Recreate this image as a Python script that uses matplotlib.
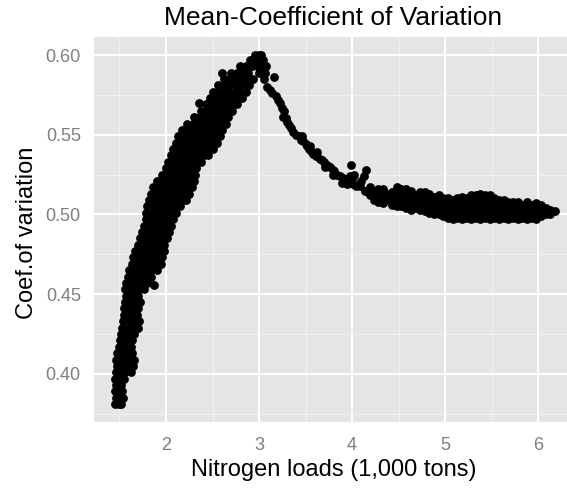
import matplotlib
matplotlib.use("Agg")
from matplotlib import pyplot as plt

# rising limb: rows of (coef. of variation, [nitrogen loads])
rise_rows = [
    (0.381, [1.45, 1.49, 1.52]),
    (0.385, [1.46, 1.51, 1.54]),
    (0.389, [1.45, 1.49, 1.53]),
    (0.393, [1.46, 1.50, 1.52]),
    (0.397, [1.45, 1.50, 1.55]),
    (0.401, [1.46, 1.51, 1.56, 1.62]),
    (0.405, [1.47, 1.52, 1.58, 1.64]),
    (0.409, [1.46, 1.51, 1.56, 1.61, 1.66]),
    (0.413, [1.47, 1.53, 1.58, 1.63]),
    (0.417, [1.50, 1.56, 1.62]),
    (0.421, [1.51, 1.57, 1.63]),
    (0.425, [1.52, 1.58, 1.63, 1.66]),
    (0.429, [1.53, 1.59, 1.65, 1.70]),
    (0.433, [1.54, 1.60, 1.66, 1.71]),
    (0.437, [1.55, 1.61, 1.66, 1.69]),
    (0.441, [1.55, 1.60, 1.65, 1.70]),
    (0.445, [1.56, 1.62, 1.67, 1.72]),
    (0.449, [1.57, 1.63, 1.68, 1.70]),
    (0.453, [1.56, 1.61, 1.66, 1.71, 1.76]),
    (0.456, [1.875]),
    (0.457, [1.57, 1.63, 1.69, 1.75, 1.80]),
    (0.461, [1.59, 1.64, 1.70, 1.76, 1.81, 1.84]),
    (0.465, [1.60, 1.66, 1.72, 1.78, 1.84, 1.90]),
    (0.469, [1.63, 1.69, 1.75, 1.81, 1.87, 1.93, 1.95]),
    (0.473, [1.65, 1.71, 1.77, 1.83, 1.89, 1.96]),
    (0.477, [1.67, 1.73, 1.79, 1.85, 1.91, 1.98]),
    (0.481, [1.70, 1.76, 1.82, 1.88, 1.94, 1.98]),
    (0.485, [1.72, 1.78, 1.84, 1.90, 1.96, 2.01]),
    (0.489, [1.74, 1.80, 1.86, 1.92, 1.98, 2.03]),
    (0.493, [1.76, 1.82, 1.88, 1.94, 2.00, 2.05]),
    (0.497, [1.78, 1.84, 1.90, 1.96, 2.02, 2.08]),
    (0.501, [1.79, 1.85, 1.91, 1.97, 2.03, 2.08, 2.11]),
    (0.505, [1.80, 1.86, 1.92, 1.98, 2.04, 2.10, 2.15]),
    (0.509, [1.82, 1.88, 1.94, 2.00, 2.06, 2.12, 2.18, 2.22]),
    (0.513, [1.84, 1.90, 1.96, 2.02, 2.08, 2.14, 2.20, 2.25]),
    (0.517, [1.86, 1.92, 1.98, 2.04, 2.10, 2.16, 2.22, 2.28]),
    (0.521, [1.90, 1.96, 2.02, 2.08, 2.14, 2.20, 2.26, 2.30]),
    (0.525, [1.96, 2.02, 2.08, 2.14, 2.20, 2.26, 2.31]),
    (0.529, [2.00, 2.06, 2.12, 2.18, 2.24, 2.29, 2.32]),
    (0.533, [2.02, 2.08, 2.14, 2.20, 2.26, 2.32, 2.38]),
    (0.537, [2.05, 2.11, 2.17, 2.23, 2.29, 2.35, 2.41, 2.45]),
    (0.541, [2.08, 2.14, 2.20, 2.26, 2.32, 2.38, 2.44, 2.50]),
    (0.545, [2.11, 2.17, 2.23, 2.29, 2.35, 2.41, 2.47, 2.53, 2.55]),
    (0.549, [2.13, 2.19, 2.25, 2.31, 2.37, 2.43, 2.49, 2.55, 2.58]),
    (0.553, [2.17, 2.23, 2.29, 2.35, 2.41, 2.47, 2.53, 2.60]),
    (0.557, [2.23, 2.29, 2.35, 2.41, 2.47, 2.53, 2.59, 2.64]),
    (0.561, [2.30, 2.36, 2.42, 2.48, 2.54, 2.60, 2.67]),
    (0.565, [2.38, 2.44, 2.50, 2.56, 2.62, 2.68, 2.71]),
    (0.569, [2.43, 2.49, 2.55, 2.61, 2.67, 2.73, 2.76]),
    (0.570, [2.355]),
    (0.573, [2.47, 2.53, 2.59, 2.65, 2.71, 2.77, 2.82]),
    (0.577, [2.50, 2.56, 2.62, 2.68, 2.74, 2.80, 2.86]),
    (0.581, [2.56, 2.62, 2.68, 2.74, 2.80, 2.86, 2.89]),
    (0.585, [2.62, 2.68, 2.74, 2.80, 2.86, 2.93]),
    (0.589, [2.60, 2.70, 2.76, 2.82, 2.88, 3.00, 3.06]),
    (0.593, [2.80, 2.86, 2.92, 2.98, 3.04, 3.08]),
    (0.597, [2.90, 2.96, 3.01, 3.04]),
    (0.600, [2.96, 3.00, 3.02]),
]

# falling limb after the peak
fall_x = [3.05, 3.09, 3.12, 3.16, 3.14, 3.18, 3.20, 3.22, 3.25, 3.27,
          3.26, 3.29, 3.30, 3.32, 3.34, 3.36, 3.40, 3.43, 3.45, 3.47,
          3.50, 3.52, 3.54, 3.56, 3.58, 3.61, 3.65, 3.68, 3.70, 3.73,
          3.76, 3.79, 3.81, 3.84, 3.87, 3.90, 3.92, 3.95, 3.99, 3.98,
          4.00, 4.02, 4.01, 4.04, 4.08, 4.10, 4.13, 4.15, 4.14, 4.16,
          3.62, 3.71, 3.80, 3.89, 3.46, 3.55]
fall_y = [0.585, 0.580, 0.578, 0.5865, 0.576, 0.574, 0.572, 0.570, 0.567, 0.5646,
          0.561, 0.5604, 0.558, 0.5563, 0.554, 0.552, 0.550, 0.549, 0.547, 0.5458,
          0.544, 0.5427, 0.541, 0.5396, 0.538, 0.5365, 0.535, 0.5344, 0.533, 0.5313,
          0.530, 0.528, 0.527, 0.525, 0.524, 0.523, 0.521, 0.519, 0.531, 0.524,
          0.522, 0.525, 0.519, 0.518, 0.5177, 0.521, 0.524, 0.528, 0.515, 0.5146,
          0.539, 0.530, 0.525, 0.520, 0.549, 0.543]

# plateau: columns of (nitrogen load, [coef. of variation])
tail_cols = [
    (4.19, [0.512, 0.517]),
    (4.24, [0.509, 0.514]),
    (4.28, [0.508, 0.512, 0.516]),
    (4.33, [0.507, 0.511, 0.516]),
    (4.38, [0.509, 0.513]),
    (4.43, [0.506, 0.510, 0.514]),
    (4.48, [0.505, 0.509, 0.513, 0.517]),
    (4.53, [0.505, 0.509, 0.513, 0.516]),
    (4.58, [0.504, 0.508, 0.512, 0.516]),
    (4.63, [0.503, 0.507, 0.511, 0.515]),
    (4.68, [0.504, 0.508, 0.512]),
    (4.73, [0.503, 0.507, 0.511, 0.514]),
    (4.78, [0.502, 0.506, 0.510, 0.514]),
    (4.83, [0.501, 0.505, 0.509, 0.513]),
    (4.88, [0.500, 0.504, 0.508, 0.511]),
    (4.93, [0.500, 0.504, 0.508, 0.512]),
    (4.98, [0.499, 0.503, 0.507, 0.510]),
    (5.03, [0.498, 0.502, 0.506, 0.510]),
    (5.08, [0.497, 0.501, 0.505, 0.509]),
    (5.13, [0.498, 0.502, 0.506, 0.510]),
    (5.18, [0.497, 0.501, 0.505, 0.509, 0.511]),
    (5.23, [0.498, 0.502, 0.506, 0.510]),
    (5.28, [0.497, 0.501, 0.505, 0.509, 0.512]),
    (5.33, [0.498, 0.502, 0.506, 0.510, 0.512]),
    (5.38, [0.497, 0.501, 0.505, 0.509, 0.513]),
    (5.43, [0.498, 0.502, 0.506, 0.510, 0.512]),
    (5.48, [0.497, 0.501, 0.505, 0.509, 0.512]),
    (5.53, [0.498, 0.502, 0.506, 0.510]),
    (5.58, [0.497, 0.501, 0.505, 0.509]),
    (5.63, [0.498, 0.502, 0.506, 0.509]),
    (5.68, [0.497, 0.501, 0.505, 0.508]),
    (5.73, [0.498, 0.502, 0.506, 0.508]),
    (5.78, [0.497, 0.501, 0.505, 0.508]),
    (5.83, [0.498, 0.502, 0.506]),
    (5.88, [0.497, 0.501, 0.505, 0.508]),
    (5.93, [0.498, 0.502, 0.506]),
    (5.98, [0.497, 0.501, 0.505, 0.507]),
    (6.03, [0.499, 0.503, 0.506]),
    (6.08, [0.500, 0.504]),
    (6.13, [0.500, 0.503]),
    (6.18, [0.502]),
]

x_ticks = [2, 3, 4, 5, 6]
x_minor = [1.5, 2.5, 3.5, 4.5, 5.5]
y_ticks = [0.40, 0.45, 0.50, 0.55, 0.60]
y_minor = [0.375, 0.425, 0.475, 0.525, 0.575]

xs, ys = [], []
for y, row in rise_rows:
    xs += row
    ys += [y] * len(row)
xs += fall_x
ys += fall_y
for x, col in tail_cols:
    xs += [x] * len(col)
    ys += col

plt.rcParams["font.family"] = ["Liberation Sans", "DejaVu Sans"]

W, H = 567, 491
fig = plt.figure(figsize=(W / 100, H / 100), dpi=100)
ax = fig.add_axes([94 / W, 1 - 422 / H, (W - 94) / W, (422 - 37) / H])
ax.set_facecolor("#E5E5E5")
for s in ax.spines.values():
    s.set_visible(False)

ax.set_xlim(1.226, 6.31)
ax.set_ylim(0.3698, 0.6113)
ax.set_xticks(x_ticks)
ax.set_xticks(x_minor, minor=True)
ax.set_yticks(y_ticks)
ax.set_yticks(y_minor, minor=True)
ax.set_yticklabels(["%.2f" % v for v in y_ticks])
ax.grid(which="major", color="white", linewidth=1.4)
ax.grid(which="minor", color="#F2F2F2", linewidth=0.7)
ax.set_axisbelow(True)
ax.tick_params(which="both", length=0)
ax.tick_params(axis="x", pad=11, labelsize=13, labelcolor="#7F7F7F")
ax.tick_params(axis="y", pad=9.5, labelsize=13, labelcolor="#7F7F7F")

ax.scatter(xs, ys, s=40, color="black", linewidths=0)

fig.text(333 / W, 1 - 18 / H, "Mean-Coefficient of Variation",
         ha="center", va="center", fontsize=19, color="black")
fig.text(334 / W, 1 - 470 / H, "Nitrogen loads (1,000 tons)",
         ha="center", va="center", fontsize=17, color="black")
fig.text(27 / W, 1 - 233 / H, "Coef.of variation", rotation=90,
         ha="center", va="center", fontsize=17, color="black")

fig.savefig("out.png", dpi=100)
